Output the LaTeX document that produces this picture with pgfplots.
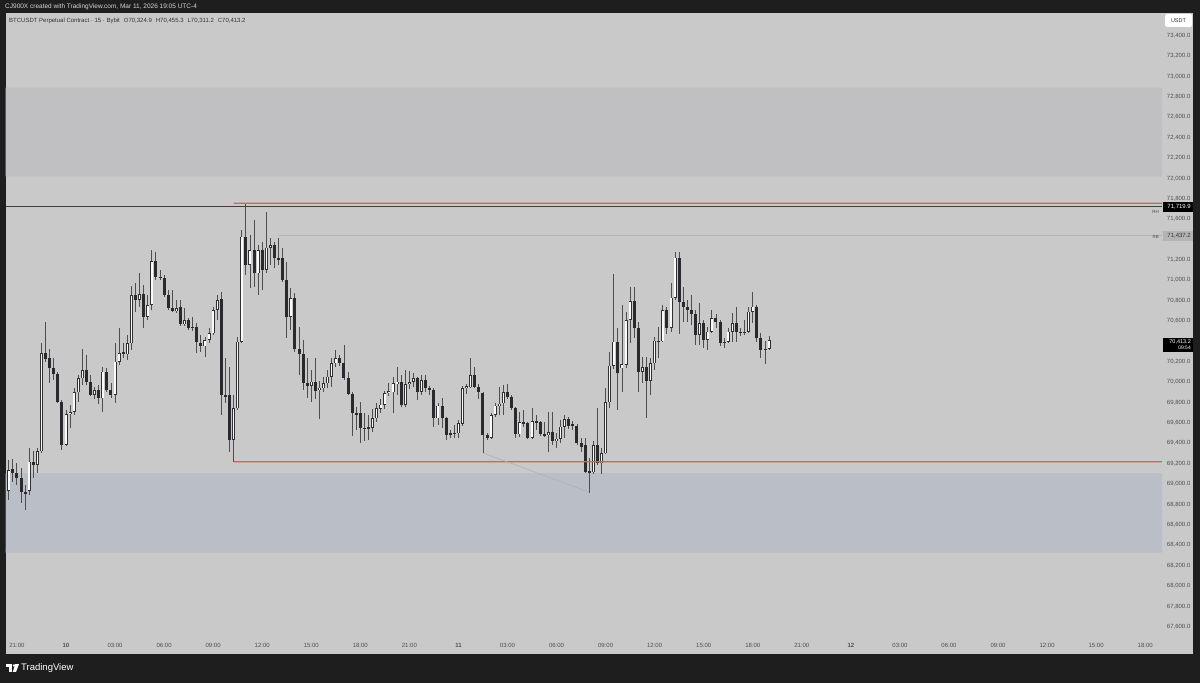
\documentclass[border=0pt]{standalone}
\usepackage{fontspec}
\setmainfont{Liberation Sans}
\usepackage{pgfplots}
\usepackage{pgfplotstable}
\pgfplotsset{compat=1.18}
\definecolor{bgdark}{RGB}{30,30,30}
\definecolor{panel}{RGB}{201,201,201}
\definecolor{zonetop}{RGB}{192,192,195}
\definecolor{zonebot}{RGB}{186,190,199}
\definecolor{wick}{RGB}{78,78,78}
\definecolor{bear}{RGB}{42,42,46}
\definecolor{bullline}{RGB}{48,48,50}
\definecolor{bullfill}{RGB}{250,250,250}
\definecolor{lvlred}{RGB}{204,100,100}
\definecolor{rhline}{RGB}{62,62,62}
\definecolor{rbline}{RGB}{180,180,180}
\definecolor{diag}{RGB}{176,176,178}
\definecolor{axtext}{RGB}{80,80,80}
\definecolor{legtext}{RGB}{50,50,50}
\definecolor{hdrtext}{RGB}{215,215,215}

\pgfplotstableread{
t o h l c
-0.75 68370 68990 68360 68940
-0.5 68935 69237 68844 69139
-0.25 69145 69250 69020 69106
0 69106 69204 68991 69057
0.25 69060 69155 68812 68920
0.5 68920 68990 68746 68900
0.75 68935 69350 68895 69220
1 69220 69320 69060 69190
1.25 69190 69350 69110 69320
1.5 69320 70380 69300 70283
1.75 70283 70590 70200 70227
2 70234 70330 69990 70136
2.25 70136 70235 70020 70077
2.5 70077 70103 69793 69809
2.75 69809 69826 69335 69384
3 69384 69730 69370 69685
3.25 69685 69776 69547 69705
3.5 69705 69938 69678 69899
3.75 69899 70070 69810 70038
4 70038 70325 69975 70120
4.25 70120 70270 69975 70005
4.5 70005 70070 69860 69874
4.75 69874 69955 69830 69924
5 69924 69970 69790 69842
5.25 69842 70150 69710 70103
5.5 70103 70140 69905 69924
5.75 69924 69990 69840 69874
6 69874 70380 69795 70200
6.25 70200 70530 70170 70283
6.5 70283 70380 70235 70293
6.75 70273 70463 70218 70382
7 70382 70940 70316 70856
7.25 70856 70970 70690 70807
7.5 70807 71068 70740 70866
7.75 70866 70954 70529 70643
8 70643 70856 70610 70758
8.25 70758 71297 70709 71189
8.5 71189 71280 71003 71036
8.75 71036 71100 71000 71026
9 71026 71050 70840 70856
9.25 70856 70900 70710 70725
9.5 70725 70905 70690 70700
9.75 70700 70807 70680 70725
10 70741 70807 70555 70568
10.25 70568 70725 70550 70610
10.5 70610 70630 70510 70535
10.75 70545 70640 70500 70530
11 70545 70578 70283 70390
11.25 70382 70460 70300 70350
11.5 70350 70447 70250 70414
11.75 70414 70530 70380 70480
12 70480 70740 70460 70709
12.25 70709 70856 70610 70807
12.5 70817 70889 69678 69874
12.75 69874 70234 69793 69858
13 69874 70152 69318 69433
13.25 69433 69874 69215 69744
13.5 69744 70447 69730 70398
13.75 70398 71494 70380 71428
14 71428 71760 71052 71150
14.25 71150 71444 70920 71297
14.5 71297 71592 70938 71068
14.75 71068 71346 70856 71297
15 71297 71380 70905 71101
15.25 71101 71674 71068 71320
15.5 71320 71412 71150 71346
15.75 71346 71380 71125 71222
16 71222 71412 71150 71200
16.25 71215 71314 70987 71003
16.5 71003 71183 70431 70643
16.75 70643 70921 70512 70824
17 70824 70872 70300 70326
17.25 70326 70545 70070 70273
17.5 70273 70414 69924 69989
17.75 69989 70234 69842 69965
18 69965 70120 69809 70005
18.25 70005 70234 69832 69918
18.5 69924 70011 69636 69947
18.75 69940 70050 69900 69989
19 69989 70120 69940 70054
19.25 70054 70234 69956 70185
19.5 70185 70316 70150 70234
19.75 70234 70270 70160 70190
20 70185 70365 70022 70038
20.25 70038 70100 69870 69881
20.5 69881 69907 69475 69695
20.75 69695 69760 69530 69680
21 69695 69809 69400 69554
21.25 69554 69695 69420 69540
21.5 69545 69680 69430 69556
21.75 69554 69740 69510 69645
22 69645 69793 69610 69744
22.25 69740 69830 69700 69780
22.5 69780 69910 69740 69891
22.75 69891 69990 69860 69910
23 69900 70054 69695 69989
23.25 69985 70152 69874 70005
23.5 70005 70070 69760 69776
23.75 69776 70120 69760 69979
24 69979 70110 69930 70000
24.25 70000 70088 69956 70038
24.5 70038 70054 69826 69907
24.75 69907 70070 69874 70020
25 70020 70070 69907 69940
25.25 69940 69960 69874 69925
25.5 69924 69940 69564 69645
25.75 69645 69800 69580 69770
26 69770 69840 69550 69645
26.25 69645 69662 69433 69482
26.5 69482 69530 69450 69497
26.75 69490 69580 69450 69505
27 69498 69630 69450 69596
27.25 69590 69960 69570 69940
27.5 69940 69980 69880 69960
27.75 69950 70234 69940 70070
28 70070 70152 69940 69956
28.25 69956 69980 69832 69899
28.5 69891 69900 69300 69482
28.75 69482 69500 69430 69450
29 69450 69700 69440 69678
29.25 69678 69800 69660 69770
29.5 69770 69956 69680 69790
29.75 69793 69973 69678 69899
30 69899 69980 69830 69855
30.25 69855 69870 69727 69744
30.5 69744 69760 69450 69488
30.75 69488 69711 69460 69606
31 69606 69727 69560 69590
31.25 69596 69610 69440 69455
31.5 69455 69744 69440 69619
31.75 69619 69680 69530 69600
32 69606 69620 69470 69488
32.25 69488 69610 69460 69475
32.5 69480 69711 69318 69508
32.75 69508 69711 69384 69423
33 69423 69500 69350 69445
33.25 69445 69630 69400 69564
33.5 69564 69678 69450 69636
33.75 69636 69660 69540 69570
34 69590 69615 69530 69570
34.25 69570 69590 69380 69400
34.5 69400 69450 69318 69360
34.75 69380 69449 69110 69122
35 69122 69253 68910 69115
35.25 69115 69420 69100 69384
35.5 69384 69750 69188 69204
35.75 69204 69350 69096 69302
36 69302 69940 69290 69803
36.25 69803 70300 69744 70162
36.5 70162 71058 70130 70398
36.75 70398 70529 69727 70087
37 70136 70758 69907 70175
37.25 70169 70692 70136 70610
37.5 70610 70938 70382 70797
37.75 70797 70938 70431 70529
38 70529 70593 69907 70103
38.25 70103 70250 69990 70150
38.5 70150 70250 69645 70011
38.75 70011 70234 69874 70185
39 70185 70447 70120 70408
39.25 70408 70545 70234 70395
39.5 70400 70758 70390 70709
39.75 70709 70740 70470 70535
40 70535 70970 70490 70830
40.25 70830 71281 70805 71222
40.5 71222 71281 70470 70784
40.75 70784 70938 70593 70741
41 70741 70807 70593 70709
41.25 70709 70856 70560 70670
41.5 70670 70709 70365 70463
41.75 70463 70774 70365 70578
42 70578 70610 70340 70414
42.25 70414 70545 70316 70496
42.5 70496 70709 70480 70627
42.75 70627 70670 70530 70595
43 70595 70610 70350 70382
43.25 70382 70430 70340 70398
43.5 70398 70530 70380 70496
43.75 70496 70676 70398 70578
44 70578 70740 70398 70496
44.25 70496 70530 70450 70480
44.5 70480 70610 70465 70496
44.75 70496 70740 70480 70692
45 70692 70889 70578 70741
45.25 70741 70760 70398 70437
45.5 70437 70480 70234 70316
45.75 70330 70400 70175 70318
46 70324.9 70455.3 70311.2 70413.2
}\candles

\begin{document}
\begin{tikzpicture}[x=1pt,y=1pt]
\fill[bgdark] (0,0) rectangle (1200,683);
\fill[panel] (5.5,29) rectangle (1193,670);
\node[anchor=west, inner sep=0pt, text=hdrtext, font=\fontsize{6.5}{7}\selectfont] at (5,676.3) {CJ900X created with TradingView.com, Mar 11, 2026 19:05 UTC-4};
\begin{axis}[
  at={(5.5pt,47pt)}, anchor=south west,
  scale only axis, width=1156.5pt, height=623pt,
  xmin=-0.70, xmax=70.03, ymin=67508.7, ymax=73622.8,
  axis line style={draw=none},
  major tick length=0pt, tick style={draw=none},
  scaled y ticks=false,
  xtick={0,3,6,9,12,15,18,21,24,27,30,33,36,39,42,45,48,51,54,57,60,63,66,69},
  xticklabels={21:00,\textbf{10},03:00,06:00,09:00,12:00,15:00,18:00,21:00,\textbf{11},03:00,06:00,09:00,12:00,15:00,18:00,21:00,\textbf{12},03:00,06:00,09:00,12:00,15:00,18:00},
  ytick={67600,67800,68000,68200,68400,68600,68800,69000,69200,69400,69600,69800,70000,70200,70600,70800,71000,71200,71600,71800,72000,72200,72400,72600,72800,73000,73200,73400},
  yticklabel pos=right,
  /pgf/number format/fixed, /pgf/number format/fixed zerofill,
  /pgf/number format/precision=1, /pgf/number format/1000 sep={,},
  /pgf/number format/assume math mode=true,
  yticklabel style={anchor=east, xshift=28.5pt, inner sep=0pt, font=\fontsize{6}{7}\selectfont, text=axtext},
  xticklabel style={anchor=center, yshift=-9pt, inner sep=0pt, font=\fontsize{6}{7}\selectfont, text=axtext},
]
% zones
\addplot[fill=zonetop, draw=none, forget plot] coordinates {(-0.70,72020) (70.03,72020) (70.03,72890) (-0.70,72890) (-0.70,72020)};
\addplot[fill=zonebot, draw=none, forget plot] coordinates {(-0.70,68327) (70.03,68327) (70.03,69106) (-0.70,69106) (-0.70,68327)};
% wicks
\addplot[draw=none, mark=none, forget plot,
  error bars/.cd, y dir=both, y explicit, error mark=none,
  error bar style={draw=wick, line width=0.9pt}]
  table[x=t, y expr={0.5*(\thisrow{h}+\thisrow{l})}, y error expr={0.5*(\thisrow{h}-\thisrow{l})}] {\candles};
% bearish bodies
\addplot[draw=none, mark=none, forget plot,
  error bars/.cd, y dir=both, y explicit, error mark=none,
  error bar style={draw=bear, line width=3pt}]
  table[x=t, y expr={\thisrow{c}<\thisrow{o} ? 0.5*(\thisrow{o}+\thisrow{c}) : nan}, y error expr={max(0.5*abs(\thisrow{o}-\thisrow{c}),5)}] {\candles};
% bullish bodies: outline
\addplot[draw=none, mark=none, forget plot,
  error bars/.cd, y dir=both, y explicit, error mark=none,
  error bar style={draw=bullline, line width=3pt}]
  table[x=t, y expr={\thisrow{c}<\thisrow{o} ? nan : 0.5*(\thisrow{o}+\thisrow{c})}, y error expr={max(0.5*abs(\thisrow{o}-\thisrow{c}),5)}] {\candles};
% bullish bodies: fill
\addplot[draw=none, mark=none, forget plot,
  error bars/.cd, y dir=both, y explicit, error mark=none,
  error bar style={draw=bullfill, line width=1.5pt}]
  table[x=t, y expr={\thisrow{c}-\thisrow{o}>16 ? 0.5*(\thisrow{o}+\thisrow{c}) : nan}, y error expr={0.5*(\thisrow{c}-\thisrow{o})-7}] {\candles};
% drawings
\addplot[color=rhline, line width=1.1pt, mark=none, forget plot] coordinates {(-0.70,71719.9) (70.03,71719.9)};
\addplot[fill=lvlred, draw=none, forget plot] coordinates {(13.25,71749) (70.03,71749) (70.03,71762) (13.25,71762) (13.25,71749)};
\addplot[fill=lvlred, draw=none, forget plot] coordinates {(13.25,69211.5) (70.03,69211.5) (70.03,69224.5) (13.25,69224.5) (13.25,69211.5)};
\addplot[color=rbline, line width=1pt, mark=none, forget plot] coordinates {(16,71437.2) (70.03,71437.2)};
\addplot[color=diag, line width=0.6pt, mark=none, forget plot] coordinates {(28.55,69302) (34.93,68925)};
\end{axis}
% legend line
\node[anchor=west, inner sep=0pt, text=legtext, font=\fontsize{6}{7}\selectfont] at (9,662.3) {BTCUSDT Perpetual Contract · 15 · Bybit\hspace{4pt}O70,324.9\hspace{4pt}H70,455.3\hspace{4pt}L70,311.2\hspace{4pt}C70,413.2};
% USDT box
\fill[white, rounded corners=1.5pt] (1165,656) rectangle (1192,669);
\node[inner sep=0pt, text=legtext, font=\fontsize{5.5}{6}\selectfont] at (1178.5,662.5) {USDT};
% RH label box
\fill[black] (1163,471) rectangle (1193,480.5);
\node[anchor=east, inner sep=0pt, text=white, font=\fontsize{6}{7}\selectfont] at (1191,475.8) {71,719.9};
\node[anchor=east, inner sep=0pt, text=axtext, font=\fontsize{4.5}{5}\selectfont] at (1159,471.3) {RH};
% RB label box
\fill[rbline] (1163,442) rectangle (1193,451.5);
\node[anchor=east, inner sep=0pt, text=legtext, font=\fontsize{6}{7}\selectfont] at (1191,446.8) {71,437.2};
\node[anchor=east, inner sep=0pt, text=axtext, font=\fontsize{4.5}{5}\selectfont] at (1159,446.5) {RB};
% last price box
\fill[black] (1163,331.3) rectangle (1193,345);
\node[anchor=east, inner sep=0pt, text=white, font=\fontsize{5.5}{6}\selectfont] at (1191,341.4) {70,413.2};
\node[anchor=east, inner sep=0pt, text=white, font=\fontsize{5}{6}\selectfont] at (1191,335.2) {09:54};
% TradingView logo
\fill[white] (6,18.8) rectangle (12,16.2);
\fill[white] (9.4,16.2) rectangle (12,11);
\fill[white] (14,17.5) circle (1.3);
\fill[white] (15.2,18.8) -- (19,18.8) -- (16,11) -- (12.8,11) -- cycle;
\node[anchor=west, inner sep=0pt, text=white, font=\fontsize{9.5}{10}\selectfont] at (21,14.8) {TradingView};
\end{tikzpicture}
\end{document}
